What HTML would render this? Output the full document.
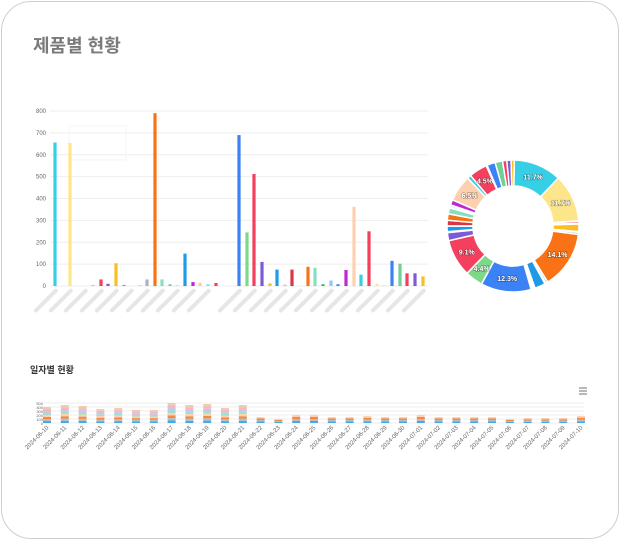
<!DOCTYPE html><html><head><meta charset="utf-8"><style>
body{margin:0;width:620px;height:540px;background:#fff;font-family:"Liberation Sans","Noto Sans CJK KR",sans-serif;overflow:hidden}
.card{position:absolute;left:1px;top:1px;width:616px;height:536px;border:1px solid #cfcfcf;border-radius:30px;background:#fff}
</style></head><body><div class="card"></div>
<svg id="s" width="620" height="540" style="position:absolute;left:0;top:0" font-family="Liberation Sans, Noto Sans CJK KR, sans-serif">
<text x="33" y="52" font-size="18" font-weight="bold" fill="#7a7a7a">제품별 현황</text>
<text x="30" y="373" font-size="9" font-weight="bold" fill="#333">일자별 현황</text>
<g stroke="#888" stroke-width="1.2"><line x1="579" y1="388" x2="587" y2="388"/><line x1="579" y1="391" x2="587" y2="391"/><line x1="579" y1="394" x2="587" y2="394"/></g>
</svg>
<script>
const s=document.getElementById('s');const NS='http://www.w3.org/2000/svg';
function el(t,a,txt){const e=document.createElementNS(NS,t);for(const k in a)e.setAttribute(k,a[k]);if(txt!=null)e.textContent=txt;s.appendChild(e);return e;}
for(let i=0;i<=8;i++){const y=286-i*21.875;el('line',{x1:50,x2:428,y1:y,y2:y,stroke:'#eee','stroke-width':1});el('text',{x:46,y:y+2,'font-size':6,fill:'#666','text-anchor':'end'},i*100);}
el('rect',{x:69,y:126,width:57,height:34,fill:'none',stroke:'#f4f4f4'});
const bars=[[55,'#36cfe6',656],[70,'#fde68a',654],[93,'#86efac',5],[101,'#f43f5e',30],[108,'#7c5cd6',10],[116,'#fbbf24',104],[124,'#60a5fa',5],[140,'#f9a8b8',3],[147,'#a8b3bf',30],[155,'#f97316',790],[162,'#86e0c0',30],[170,'#6fcf97',8],[177,'#bae6fd',5],[185,'#1e9be8',148],[193,'#c026d3',18],[200,'#fdc9a8',15],[208,'#67e8f9',8],[216,'#f43f5e',14],[239,'#3b82f6',690],[247,'#7dd88a',245],[254,'#f43f5e',512],[262,'#7c5cd6',110],[270,'#fbbf24',12],[277,'#1e9be8',75],[285,'#f9a8d4',6],[292,'#dc3545',75],[308,'#f97316',88],[315,'#86e0c0',83],[323,'#22c55e',8],[331,'#93c5fd',25],[338,'#3b82f6',8],[346,'#c026d3',73],[354,'#fdd0b0',362],[361,'#36cfe6',52],[369,'#f43f5e',250],[377,'#fde68a',10],[384,'#cbd5e1',3],[392,'#3b82f6',115],[400,'#6fcf97',102],[407,'#f43f5e',58],[415,'#7c5cd6',58],[423,'#fbbf24',44]];
bars.forEach(b=>{const h=b[2]*0.21875;el('rect',{x:b[0]-1.6,y:286-h,width:3.2,height:h,fill:b[1]});});
const lab=[55,70,85,101,116,131,147,162,177,193,208,239,254,270,285,300,315,331,346,361,377,392,407,423];
lab.forEach(x=>{el('rect',{x:x-30,y:289,width:32,height:4,fill:'#e6e6e6',transform:`rotate(-45 ${x} 290)`,rx:2});});
const cx=513,cy=226,R=66,r=40;const tot=bars.reduce((a,b)=>a+b[2],0);let ang=-Math.PI/2+0.02;
bars.forEach(b=>{const a=b[2]/tot*2*Math.PI;const a1=ang,a2=ang+a;const lg=a>Math.PI?1:0;
const p=(rr,t)=>[cx+rr*Math.cos(t),cy+rr*Math.sin(t)];const[x1,y1]=p(R,a1),[x2,y2]=p(R,a2),[x3,y3]=p(r,a2),[x4,y4]=p(r,a1);
el('path',{d:`M${x1},${y1}A${R},${R} 0 ${lg} 1 ${x2},${y2}L${x3},${y3}A${r},${r} 0 ${lg} 0 ${x4},${y4}Z`,fill:b[1],stroke:'#fff','stroke-width':1.5});
const pc=b[2]/tot*100;if(pc>4){const[tx,ty]=p((R+r)/2,a1+a/2);el('text',{x:tx,y:ty+2.5,'font-size':7,'font-weight':'bold',fill:'#fff','text-anchor':'middle',style:'paint-order:stroke',stroke:'rgba(0,0,0,0.35)','stroke-width':1.2},pc.toFixed(1)+'%');}
ang=a2;});
const hs=[16,18,17,14,15,13,13,20,18,19,15,18,6,4,8,8,6,6,7,6,6,8,6,6,6,6,4,5,5,5,7];
const cols=['#1e9be8','#a8b3bf','#f97316','#fdc9a8','#86e0c0','#c7b8e8','#f9a8b8','#e8c8a0'];
const base=423;for(let i=0;i<6;i++){el('line',{x1:44,x2:584,y1:base-i*4,y2:base-i*4,stroke:'#eee'});el('text',{x:43,y:base-i*4+2,'font-size':4,fill:'#666','text-anchor':'end'},i*100);}
hs.forEach((h,i)=>{const x=47+i*17.8;let y=base;const n=h>10?8:4;for(let k=0;k<n;k++){const hh=h/n;el('rect',{x:x-4,y:y-hh,width:8,height:hh,fill:cols[k%8],opacity:0.85});y-=hh;}
const d=new Date(2024,5,10+i);const t=`2024-${String(d.getMonth()+1).padStart(2,'0')}-${String(d.getDate()).padStart(2,'0')}`;
el('text',{x:x+2,y:base+5,'font-size':6,fill:'#666','text-anchor':'end',transform:`rotate(-45 ${x+2} ${base+5})`},t);});
</script></body></html>
